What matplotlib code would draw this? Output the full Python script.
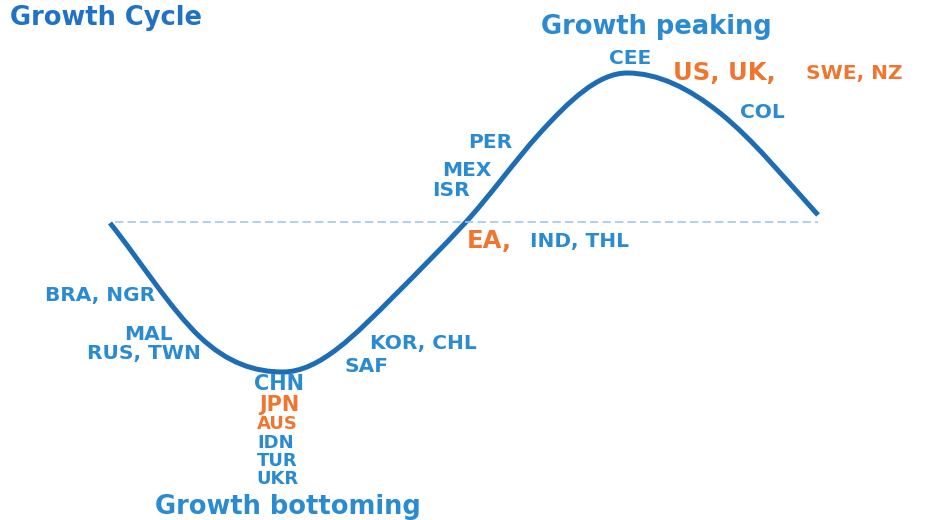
import matplotlib as mpl
import matplotlib.pyplot as plt
from matplotlib.path import Path
from matplotlib.patches import PathPatch

plt.rcParams['font.family'] = ['DejaVu Sans']

# cycle curve anchors (chart units, y grows downward) and slopes at each anchor
cycle_x = [110, 200, 283, 393, 465, 540, 627, 720, 818]
cycle_y = [223, 337, 372, 297, 223, 133, 73, 113, 215]
cycle_slope = [1.25, 0.95, 0.0, -1.0, -1.08, -1.1, 0.0, 0.8, 1.1]
trend_y = 222

BLUE_LINE = '#1c6db5'
BLUE_TEXT = '#2a8bd3'
BLUE_HEAD = '#1f72c4'
ORANGE = '#f07630'
DASH = '#9fc9ec'

# phase headers
headers = ['Growth Cycle', 'Growth peaking', 'Growth bottoming']
header_pos = [(10, 18, 'left'), (656, 27, 'center'), (288, 507, 'center')]

# country labels: text, colour, size class (l = large, s = small, t = stack under trough)
labels = ['CEE', 'US, UK,', 'SWE, NZ', 'COL', 'PER', 'MEX', 'ISR', 'EA,', 'IND, THL',
          'BRA, NGR', 'MAL', 'RUS, TWN', 'KOR, CHL', 'SAF',
          'CHN', 'JPN', 'AUS', 'IDN', 'TUR', 'UKR']
label_color = ['b', 'o', 'o', 'b', 'b', 'b', 'b', 'o', 'b',
               'b', 'b', 'b', 'b', 'b',
               'b', 'o', 'o', 'b', 'b', 'b']
label_size = ['s', 'l', 's', 's', 's', 's', 's', 'l', 's',
              's', 's', 's', 's', 's',
              'm', 'm', 't', 't', 't', 't']
label_pos = [(630, 59, 'center'), (673, 73, 'left'), (806, 74, 'left'), (740, 113, 'left'),
             (512, 142, 'right'), (492, 170, 'right'), (470, 191, 'right'),
             (467, 241, 'left'), (530, 242, 'left'),
             (155, 296, 'right'), (173, 334, 'right'), (201, 354, 'right'),
             (370, 343, 'left'), (345, 366, 'left'),
             (279, 384, 'center'), (279, 405, 'center'), (277, 424, 'center'),
             (276, 443, 'center'), (277, 461, 'center'), (277, 479, 'center')]
size_pt = {'l': 17.5, 's': 14.5, 'm': 15, 't': 13}

fig = plt.figure(figsize=(9.29, 5.2), dpi=100)
ax = fig.add_axes([0, 0, 1, 1])
ax.set_xlim(0, 929)
ax.set_ylim(520, 0)
ax.axis('off')

# dashed trend line
ax.plot([cycle_x[0] + 5, cycle_x[-1]], [trend_y, trend_y], color=DASH, lw=1.2,
        linestyle=(0, (5, 2.5)))

# smooth cycle curve as cubic bezier segments through the anchors
verts = [(cycle_x[0], cycle_y[0])]
codes = [Path.MOVETO]
for i in range(len(cycle_x) - 1):
    dx = cycle_x[i + 1] - cycle_x[i]
    verts += [(cycle_x[i] + dx / 3, cycle_y[i] + cycle_slope[i] * dx / 3),
              (cycle_x[i + 1] - dx / 3, cycle_y[i + 1] - cycle_slope[i + 1] * dx / 3),
              (cycle_x[i + 1], cycle_y[i + 1])]
    codes += [Path.CURVE4] * 3
ax.add_patch(PathPatch(Path(verts, codes), facecolor='none', edgecolor=BLUE_LINE,
                       lw=3.6, capstyle='butt'))

for txt, (x, y, ha) in zip(headers, header_pos):
    col = BLUE_HEAD if txt == 'Growth Cycle' else BLUE_TEXT
    ax.text(x, y, txt, ha=ha, va='center', fontsize=18.5, fontweight='bold', color=col)

for txt, c, s, (x, y, ha) in zip(labels, label_color, label_size, label_pos):
    ax.text(x, y, txt, ha=ha, va='center', fontweight='bold', fontsize=size_pt[s],
            color=ORANGE if c == 'o' else BLUE_TEXT)

fig.savefig('out.png', dpi=100)
